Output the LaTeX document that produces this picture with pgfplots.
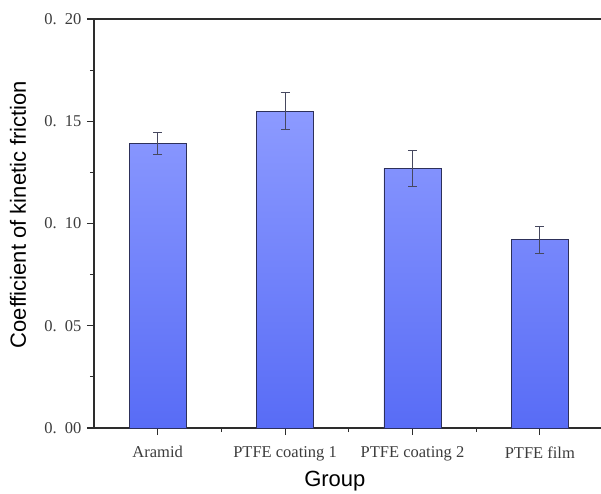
\documentclass[border=0pt]{standalone}
\usepackage{fontspec}
\setmainfont{Liberation Serif}
\newfontfamily\arial{Liberation Sans}
\usepackage{pgfplots}
\pgfplotsset{compat=1.18}

\definecolor{barTop}{RGB}{140,154,255}
\definecolor{barBot}{RGB}{88,108,246}
\definecolor{barEdge}{RGB}{45,48,90}
\definecolor{errCol}{RGB}{70,72,95}
\definecolor{axCol}{RGB}{45,45,45}
\definecolor{tickText}{RGB}{60,60,60}

\begin{document}
\begin{tikzpicture}
\begin{axis}[
    scale only axis,
    width=507pt, height=409pt,
    xmin=-0.5, xmax=3.48,
    ymin=0, ymax=0.2,
    axis x line=bottom, axis y line=left,
    axis line style={-, line width=1.6pt, color=axCol},
    tick style={line width=1.1pt, color=axCol},
    tick align=outside,
    major tick length=7pt, minor tick length=4pt,
    xtick={0,1,2,3},
    minor xtick={0.5,1.5,2.5},
    xticklabels={Aramid, PTFE coating 1, PTFE coating 2, PTFE film},
    ytick={0,0.05,0.1,0.15,0.2},
    minor ytick={0.025,0.075,0.125,0.175},
    yticklabels={0.\hspace{0.5em}00, 0.\hspace{0.5em}05, 0.\hspace{0.5em}10, 0.\hspace{0.5em}15, 0.\hspace{0.5em}20},
    xticklabel style={font=\fontsize{16.5}{19}\selectfont, text=tickText, yshift=-8pt},
    yticklabel style={font=\fontsize{16.5}{19}\selectfont, text=tickText, xshift=-2pt},
    xlabel={\arial Group},
    ylabel={\arial Coefficient of kinetic friction},
    xlabel style={font=\fontsize{22}{26}\selectfont, at={(axis description cs:0.475,-0.13)}, anchor=center},
    ylabel style={font=\fontsize{22}{26}\selectfont, at={(axis description cs:-0.15,0.522)}, anchor=center},
    clip=false,
]
\addplot[ybar, bar width=57pt, draw=barEdge, line width=0.9pt,
    top color=barTop, bottom color=barBot]
coordinates {
    (0,0.139)
    (1,0.155)
    (2,0.127)
    (3,0.092)
};
\addplot[draw=none, forget plot,
    error bars/.cd, y dir=both, y explicit,
    error bar style={draw=errCol, line width=0.9pt},
    error mark options={rotate=90, mark size=4.5pt, draw=errCol, line width=0.9pt}]
coordinates {
    (0,0.139) +- (0,0.0053)
    (1,0.155) +- (0,0.009)
    (2,0.127) +- (0,0.0089)
    (3,0.092) +- (0,0.0068)
};
\draw[line width=1.6pt, color=axCol] (rel axis cs:0,1) -- (rel axis cs:1,1);
\end{axis}
\pgfresetboundingbox
\useasboundingbox (-94pt,-65pt) rectangle (507pt,428pt);
\end{tikzpicture}
\end{document}
